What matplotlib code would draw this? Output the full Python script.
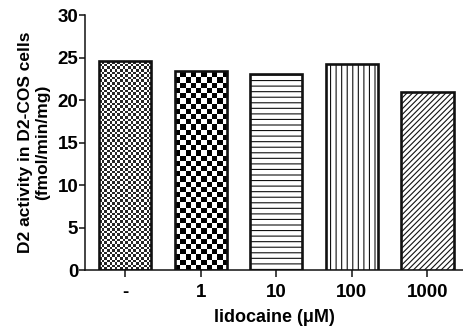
import numpy as np
import matplotlib
matplotlib.use('Agg')
import matplotlib.pyplot as plt

plt.rcParams['font.family'] = ['Liberation Sans', 'DejaVu Sans']
plt.rcParams['font.weight'] = 'bold'
plt.rcParams['hatch.linewidth'] = 0.8

# ── Data ──
doses = ['-', '1', '10', '100', '1000']
activity = [24.6, 23.4, 23.1, 24.2, 20.9]
fills = ['checker_fine', 'checker_coarse', '---', '|||', '//////']

fig = plt.figure(figsize=(4.63, 3.29), dpi=100)
ax = fig.add_axes([0.184, 0.179, 0.816, 0.775])

x = np.arange(len(doses))
bars = ax.bar(x, activity, width=0.69, color='white', edgecolor='#111111',
              linewidth=1.9, zorder=3)

ax.set_xlim(-0.53, 4.47)
ax.set_ylim(0, 30)

# px -> data scale (for checker cell size)
px_x = 5.0 / (0.816 * 463)
px_y = 30.0 / (0.775 * 329)


def checker(ax, bar, cell_px, dark):
    bx, bw, bh = bar.get_x(), bar.get_width(), bar.get_height()
    dx, dy = cell_px * px_x, cell_px * px_y
    nc = int(np.ceil(bw / dx)) + 1
    nr = int(np.ceil(bh / dy)) + 1
    img = (np.add.outer(np.arange(nr), np.arange(nc)) % 2).astype(float)
    im = ax.imshow(img * (1 - dark) + dark * 0 + (1 - img) * (1 - dark),
                   cmap='gray', vmin=0, vmax=1, interpolation='nearest',
                   extent=(bx, bx + nc * dx, 0, nr * dy), origin='lower',
                   aspect='auto', zorder=2)
    im.set_data(np.where(img > 0, 1.0, 1.0 - dark))
    im.set_clip_path(bar)
    bar.set_facecolor('none')


for bar, f in zip(bars, fills):
    if f == 'checker_fine':
        checker(ax, bar, 2.6, 0.85)
    elif f == 'checker_coarse':
        checker(ax, bar, 5.2, 1.0)
    else:
        bar.set_hatch(f)

ax.set_xlim(-0.53, 4.47)
ax.set_ylim(0, 30)
ax.set_aspect('auto')

ax.set_xticks(x)
ax.set_xticklabels(doses)
ax.set_yticks(range(0, 31, 5))

for s in ['top', 'right']:
    ax.spines[s].set_visible(False)
for s in ['left', 'bottom']:
    ax.spines[s].set_linewidth(1.1)
    ax.spines[s].set_color('#111111')

ax.tick_params(axis='both', labelsize=13.5, width=1.1, color='#111111',
               direction='out')
ax.tick_params(axis='x', length=5, pad=5)
ax.tick_params(axis='y', length=4, pad=1)

ax.set_xlabel('lidocaine (μM)', fontsize=13, fontweight='bold', labelpad=6)
ax.set_ylabel('D2 activity in D2-COS cells\n(fmol/min/mg)', fontsize=12.5,
              fontweight='bold', labelpad=5, linespacing=1.25)

fig.savefig('out.png', dpi=100)
